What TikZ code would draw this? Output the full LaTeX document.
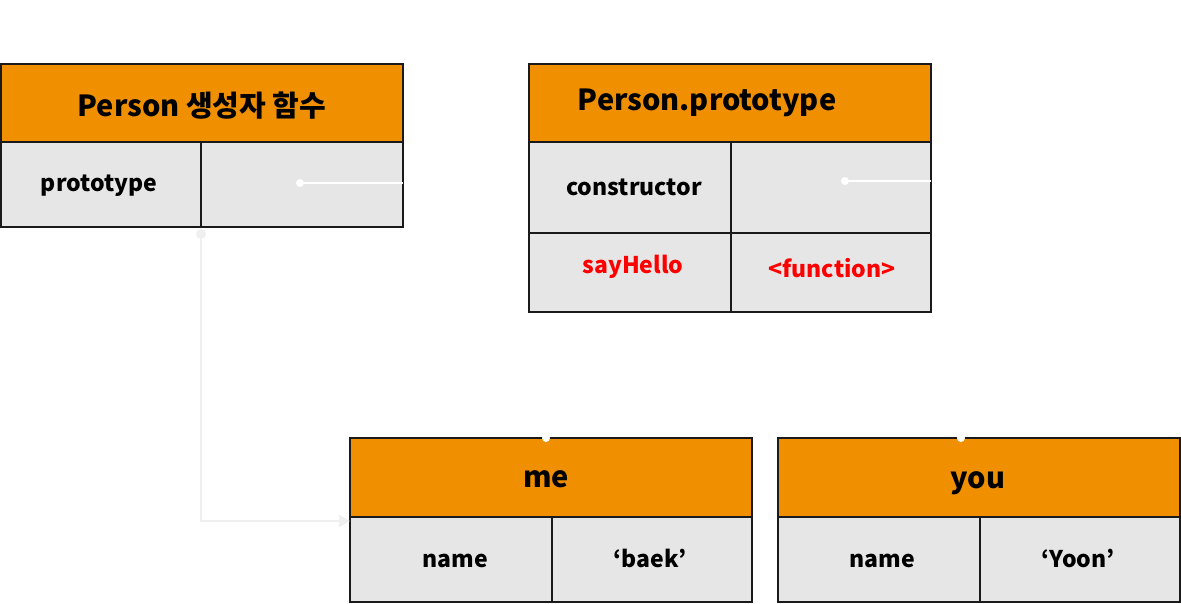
\documentclass[tikz,border=0pt]{standalone}
\usepackage{fontspec}
\setmainfont{Noto Sans CJK KR}
\usetikzlibrary{arrows.meta}
\definecolor{hdr}{HTML}{F09000}
\definecolor{cellg}{HTML}{E6E6E6}
\definecolor{bord}{HTML}{1A1A1A}
\definecolor{linkg}{HTML}{EFEFEF}
\definecolor{fred}{HTML}{FF0000}
\tikzset{
  hbox/.style={draw=bord, line width=1.5pt, fill=hdr, inner sep=0pt},
  cbox/.style={draw=bord, line width=1.5pt, fill=cellg, inner sep=0pt},
  htext/.style={font=\bfseries\fontsize{29}{33}\selectfont, text=black, inner sep=0pt, anchor=base},
  ctext/.style={font=\bfseries\fontsize{23}{27}\selectfont, text=black, inner sep=0pt, anchor=base},
  rtext/.style={ctext, text=fred},
  wdot/.style={circle, fill=white, inner sep=0pt, minimum size=8pt},
  gdot/.style={circle, fill=linkg, inner sep=0pt, minimum size=10pt},
  wlink/.style={draw=white, line width=2pt},
  glink/.style={draw=linkg, line width=2.5pt, -{Triangle[length=11pt,width=12pt]}},
}
\begin{document}
\begin{tikzpicture}[x=1pt,y=-1pt]
\useasboundingbox (0,0) rectangle (1181,603);
% Person constructor
\path[cbox] (1,142) rectangle (201,227);
\path[cbox] (201,142) rectangle (403,227);
\path[hbox] (1,64) rectangle (403,142);
\node[htext] (t1) at (202,116) {Person 생성자 함수};
\node[ctext] (t1a) at (99,191) {prototype};
\coordinate (c1r) at (403,183);
% Person.prototype
\path[cbox] (529,142) rectangle (731,233);
\path[cbox] (731,142) rectangle (931,233);
\path[cbox] (529,233) rectangle (731,312);
\path[cbox] (731,233) rectangle (931,312);
\path[hbox] (529,64) rectangle (931,142);
\node[htext] (t2) at (707,110) {Person.prototype};
\node[ctext] (t2a) at (634,195) {constructor};
\node[rtext] (t2b) at (633,273) {sayHello};
\node[rtext] (t2c) at (832,277) {<function>};
\coordinate (c2r) at (931,181);
% me
\path[cbox] (350,517) rectangle (552,602);
\path[cbox] (552,517) rectangle (752,602);
\path[hbox] (350,438) rectangle (752,517);
\node[htext] (t3) at (546,487) {me};
\node[ctext] (t3a) at (455,567) {name};
\node[ctext] (t3b) at (650,567) {‘baek’};
\coordinate (meleft) at (350,521);
% you
\path[cbox] (778,517) rectangle (980,602);
\path[cbox] (980,517) rectangle (1180,602);
\path[hbox] (778,438) rectangle (1180,517);
\node[htext] (t4) at (978,488) {you};
\node[ctext] (t4a) at (882,567) {name};
\node[ctext] (t4b) at (1078,567) {‘Yoon’};
% connectors
\node[wdot] (d1) at (300,183) {};
\draw[wlink] (d1.center) -- (c1r);
\node[wdot] (d2) at (845,181) {};
\draw[wlink] (d2.center) -- (c2r);
\node[gdot] (d3) at (201,234) {};
\coordinate (bend) at (201,521);
\draw[glink] (d3.center) -- (bend) -- (meleft);
\node[wdot] (d4) at (546,438) {};
\node[wdot] (d5) at (961,438) {};
\end{tikzpicture}
\end{document}
